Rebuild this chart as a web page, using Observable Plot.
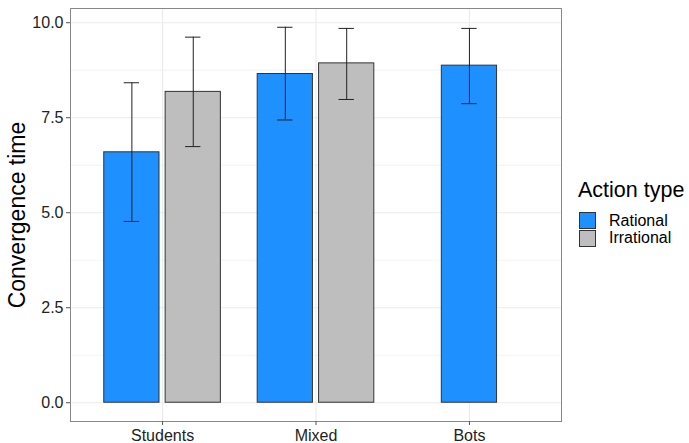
<!DOCTYPE html>
<html>
<head>
<meta charset="utf-8">
<script src="https://cdn.jsdelivr.net/npm/d3@7"></script>
<script src="https://cdn.jsdelivr.net/npm/@observablehq/plot@0.6"></script>
<style>
  html, body { margin: 0; padding: 0; background: #fff; }
  #wrap { position: relative; width: 689px; height: 443px; overflow: hidden; font-family: "Liberation Sans", Arial, sans-serif; }
  #legend { position: absolute; left: 578px; top: 180px; color: #000; }
  #legend .title { font-size: 21.5px; line-height: 21px; white-space: nowrap; margin-bottom: 11px; }
  #legend .row { display: flex; align-items: center; height: 17.5px; }
  #legend .sw { width: 17px; height: 17px; box-sizing: border-box; border: 1px solid #333; margin-right: 13px; margin-left: 1px; }
  #legend .lab { font-size: 16px; line-height: 16px; white-space: nowrap; }
</style>
</head>
<body>
<div id="wrap"><div id="chart"></div><div id="legend"></div></div>
<script>
// ---- data ----
const groups = ["Students", "Mixed", "Bots"];
const actionTypes = ["Rational", "Irrational"];
const rationalMean = [6.59, 8.65, 8.87];
const rationalLow  = [4.77, 7.44, 7.87];
const rationalHigh = [8.42, 9.88, 9.85];
const irrationalMean = [8.18, 8.93, null];
const irrationalLow  = [6.74, 7.98, null];
const irrationalHigh = [9.62, 9.85, null];
const yTicks = [0, 2.5, 5, 7.5, 10];
const yMinorTicks = [1.25, 3.75, 6.25, 8.75];
const colors = ["#1E90FF", "#BEBEBE"];
const yTitle = "Convergence time";
const legendTitle = "Action type";

// ---- build table ----
const series = [
  {type: "Rational", mean: rationalMean, low: rationalLow, high: rationalHigh},
  {type: "Irrational", mean: irrationalMean, low: irrationalLow, high: irrationalHigh}
];
const rows = [];
groups.forEach((g, gi) => {
  const present = series.filter(s => s.mean[gi] != null);
  const n = present.length;
  present.forEach((s, k) => {
    const dodge = n === 1 ? 0 : (k - (n - 1) / 2) * 0.4;
    rows.push({
      group: g, type: s.type,
      pos: gi + 1 + dodge,
      mean: s.mean[gi], low: s.low[gi], high: s.high[gi]
    });
  });
});
const barHalf = 0.18, capHalf = 0.05;

const plot = Plot.plot({
  width: 689,
  height: 443,
  marginLeft: 70,
  marginRight: 128,
  marginTop: 8,
  marginBottom: 22,
  style: {fontFamily: "'Liberation Sans', Arial, sans-serif", background: "#fff"},
  x: {type: "linear", domain: [0.4, 3.6]},
  y: {domain: [-0.494, 10.374]},
  color: {domain: actionTypes, range: colors},
  marks: [
    Plot.gridY(yMinorTicks, {stroke: "#ebebeb", strokeOpacity: 1, strokeWidth: 0.6}),
    Plot.gridY(yTicks, {stroke: "#ebebeb", strokeOpacity: 1, strokeWidth: 1.1}),
    Plot.gridX([1, 2, 3], {stroke: "#ebebeb", strokeOpacity: 1, strokeWidth: 1.1}),
    Plot.rectY(rows, {
      x1: d => d.pos - barHalf, x2: d => d.pos + barHalf,
      y1: 0, y2: "mean", fill: "type", stroke: "#333", strokeWidth: 1
    }),
    Plot.ruleX(rows, {x: "pos", y1: "low", y2: "high", stroke: "#222", strokeWidth: 1}),
    Plot.ruleY(rows, {y: "low", x1: d => d.pos - capHalf, x2: d => d.pos + capHalf, stroke: "#222", strokeWidth: 1}),
    Plot.ruleY(rows, {y: "high", x1: d => d.pos - capHalf, x2: d => d.pos + capHalf, stroke: "#222", strokeWidth: 1}),
    Plot.frame({stroke: "#888", strokeWidth: 1}),
    Plot.axisY(yTicks, {
      tickFormat: d3.format(".1f"), tickSize: 4, tickPadding: 3,
      fontSize: 16, color: "#222", stroke: "#555", label: null
    }),
    Plot.axisX([1, 2, 3], {
      tickFormat: d => groups[d - 1], tickSize: 4, tickPadding: 4,
      fontSize: 16, color: "#222", stroke: "#555", label: null
    }),
    Plot.text([yTitle], {
      frameAnchor: "left", text: d => d, rotate: -90, dx: -53,
      fontSize: 23, fill: "#000", textAnchor: "middle", lineAnchor: "middle"
    })
  ]
});
document.getElementById("chart").appendChild(plot);

// ---- legend (HTML) ----
const legend = document.getElementById("legend");
const t = document.createElement("div");
t.className = "title"; t.textContent = legendTitle;
legend.appendChild(t);
actionTypes.forEach((a, i) => {
  const r = document.createElement("div"); r.className = "row";
  const s = document.createElement("div"); s.className = "sw"; s.style.background = colors[i];
  const l = document.createElement("div"); l.className = "lab"; l.textContent = a;
  r.appendChild(s); r.appendChild(l); legend.appendChild(r);
});
</script>
</body>
</html>
